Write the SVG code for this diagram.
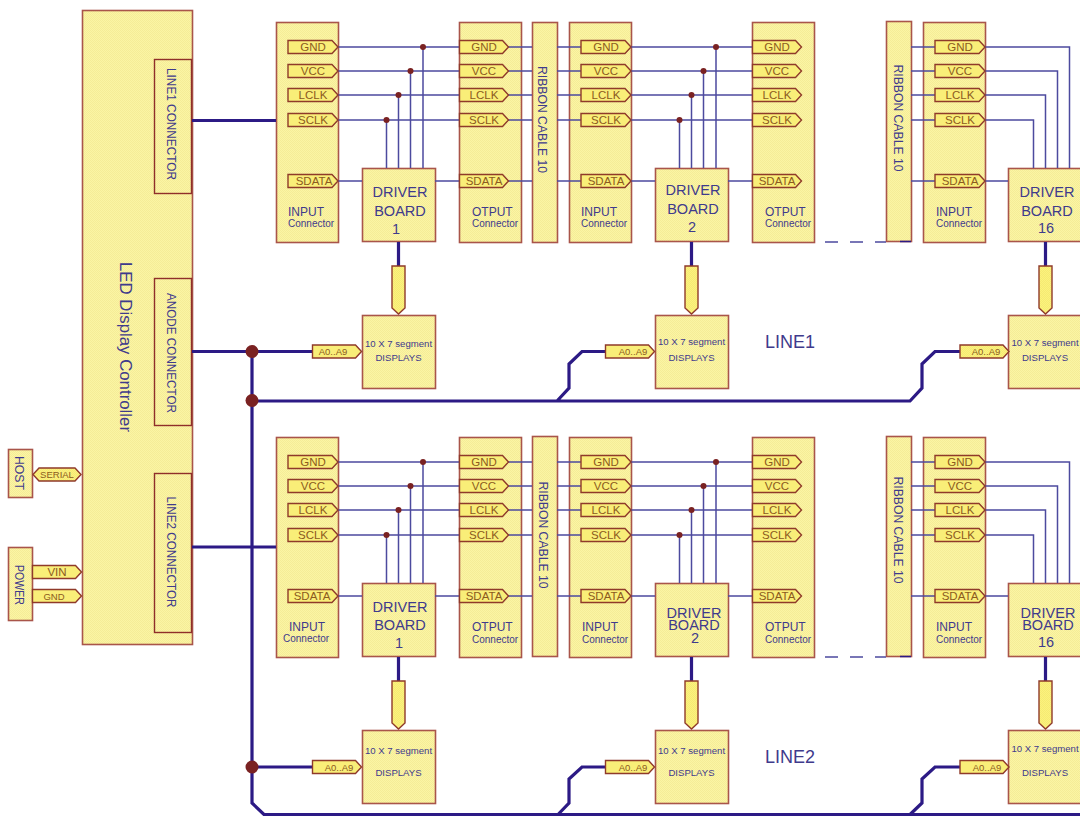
<svg xmlns="http://www.w3.org/2000/svg" width="1080" height="816" viewBox="0 0 1080 816">
<style>
text{font-family:"Liberation Sans",Arial,sans-serif;fill:#3f3a8c}
.b{fill:url(#dither);stroke:#a9554a;stroke-width:1.6}
.k{fill:url(#dither);stroke:#8f2f2a;stroke-width:1.4}
.t{fill:url(#dither2);stroke:#8f3a2a;stroke-width:1.4}
.w{fill:none;stroke:#4c4a9e;stroke-width:1.5}
.bus{fill:none;stroke:#2c1a85;stroke-width:3.2}
.d{fill:#7a2222}
.dash{fill:none;stroke:#4c4a9e;stroke-width:1.5;stroke-dasharray:13 12}
.tl{font-size:11.5px;fill:#8c5a20;text-anchor:middle}
.sm{font-size:9.5px;fill:#8c5a20;text-anchor:middle}
.i{font-size:12px}
.c{font-size:10px}
.m{font-size:14.5px;text-anchor:middle}
.s{font-size:9.6px;text-anchor:middle}
.v{font-size:12px;text-anchor:middle}
.L{font-size:18px}
</style>
<defs>
<pattern id="dither" width="2" height="2" patternUnits="userSpaceOnUse"><rect width="2" height="2" fill="#fbf5a4"/><rect width="1" height="1" fill="#f5ec97"/><rect x="1" y="1" width="1" height="1" fill="#f5ec97"/></pattern>
<pattern id="dither2" width="2" height="2" patternUnits="userSpaceOnUse"><rect width="2" height="2" fill="#fbf27e"/><rect width="1" height="1" fill="#f6ea72"/><rect x="1" y="1" width="1" height="1" fill="#f6ea72"/></pattern>
<path id="tag" d="M0 0H44L50 6.5L44 13H0Z"/>
<path id="tagS" d="M0 0H43L49 6.5L43 13H0Z"/>
<path id="pin" d="M0 0H13V42L6.5 48L0 42Z"/>
</defs>

<g id="led-controller"><rect class="b" x="82.500" y="10.500" width="110" height="634"/>
<text transform="translate(120,347) rotate(90)" text-anchor="middle" font-size="17" textLength="170" lengthAdjust="spacingAndGlyphs">LED Display Controller</text></g>
<g id="line1-connector"><rect class="k" x="154.500" y="59.500" width="37" height="134"/><text transform="translate(167,124) rotate(90)" text-anchor="middle" font-size="13" textLength="112" lengthAdjust="spacingAndGlyphs">LINE1 CONNECTOR</text></g>
<g id="anode-connector"><rect class="k" x="154.500" y="278.500" width="37" height="147"/><text transform="translate(167,353) rotate(90)" text-anchor="middle" font-size="13" textLength="120" lengthAdjust="spacingAndGlyphs">ANODE CONNECTOR</text></g>
<g id="line2-connector"><rect class="k" x="154.500" y="473.500" width="37" height="159"/><text transform="translate(167,552) rotate(90)" text-anchor="middle" font-size="13" textLength="111" lengthAdjust="spacingAndGlyphs">LINE2 CONNECTOR</text></g>
<g id="host"><rect class="b" x="8.500" y="449.500" width="24" height="48"/><text transform="translate(15,473) rotate(90)" text-anchor="middle" font-size="13" textLength="34" lengthAdjust="spacingAndGlyphs">HOST</text></g>
<g id="power"><rect class="b" x="8.500" y="547.500" width="24" height="73"/><text transform="translate(15,585) rotate(90)" text-anchor="middle" font-size="12" textLength="40" lengthAdjust="spacingAndGlyphs">POWER</text></g>

<g id="input-1a"><rect class="b" x="276.500" y="22.500" width="62" height="220"/><text class="i" x="288" y="216">INPUT</text><text class="c" x="288" y="227">Connector</text></g>
<g id="driver-1a"><rect class="b" x="362.500" y="168.500" width="73" height="73"/><text class="m" x="400" y="197">DRIVER</text><text class="m" x="400" y="215.500">BOARD</text><text class="m" x="396" y="234">1</text></g>
<g id="output-1a"><rect class="b" x="459.500" y="22.500" width="62" height="220"/><text class="i" x="472" y="216">OTPUT</text><text class="c" x="472" y="227">Connector</text></g>
<g id="ribbon-1a"><rect class="b" x="532.500" y="22.500" width="25" height="220"/><text class="v" transform="translate(538,119.500) rotate(90)" textLength="107" lengthAdjust="spacingAndGlyphs">RIBBON CABLE 10</text></g>
<g id="input-2a"><rect class="b" x="569.500" y="22.500" width="62" height="220"/><text class="i" x="581" y="216">INPUT</text><text class="c" x="581" y="227">Connector</text></g>
<g id="driver-2a"><rect class="b" x="655.500" y="168.500" width="73" height="73"/><text class="m" x="693" y="195">DRIVER</text><text class="m" x="693" y="213.500">BOARD</text><text class="m" x="692" y="232">2</text></g>
<g id="output-2a"><rect class="b" x="752.500" y="22.500" width="62" height="220"/><text class="i" x="765" y="216">OTPUT</text><text class="c" x="765" y="227">Connector</text></g>
<g id="ribbon-3a"><rect class="b" x="886.500" y="21.500" width="25" height="220"/><text class="v" transform="translate(894,118) rotate(90)" textLength="107" lengthAdjust="spacingAndGlyphs">RIBBON CABLE 10</text></g>
<g id="input-3a"><rect class="b" x="923.500" y="22.500" width="62" height="220"/><text class="i" x="936" y="216">INPUT</text><text class="c" x="936" y="227">Connector</text></g>
<g id="driver-16a"><rect class="b" x="1008.500" y="168.500" width="80" height="73"/><text class="m" x="1047" y="197">DRIVER</text><text class="m" x="1047" y="215.500">BOARD</text><text class="m" x="1046" y="233">16</text></g>
<g id="display-1a"><rect class="b" x="362.500" y="315.500" width="73" height="73"/><text class="s" x="398.500" y="347">10 X 7 segment</text><text class="s" x="398.500" y="361">DISPLAYS</text></g>
<g id="display-2a"><rect class="b" x="655.500" y="315.500" width="73" height="73"/><text class="s" x="691.500" y="345">10 X 7 segment</text><text class="s" x="691.500" y="361">DISPLAYS</text></g>
<g id="display-16a"><rect class="b" x="1008.500" y="315.500" width="80" height="73"/><text class="s" x="1045" y="346">10 X 7 segment</text><text class="s" x="1045" y="361">DISPLAYS</text></g>

<g id="input-1b"><rect class="b" x="276.500" y="437.500" width="62" height="220"/><text class="i" x="289" y="631">INPUT</text><text class="c" x="283" y="642">Connector</text></g>
<g id="driver-1b"><rect class="b" x="362.500" y="583.500" width="73" height="73"/><text class="m" x="400" y="612">DRIVER</text><text class="m" x="400" y="630">BOARD</text><text class="m" x="399" y="648">1</text></g>
<g id="output-1b"><rect class="b" x="459.500" y="437.500" width="62" height="220"/><text class="i" x="472" y="631">OTPUT</text><text class="c" x="472" y="643">Connector</text></g>
<g id="ribbon-1b"><rect class="b" x="532.500" y="436.500" width="25" height="220"/><text class="v" transform="translate(539,535) rotate(90)" textLength="107" lengthAdjust="spacingAndGlyphs">RIBBON CABLE 10</text></g>
<g id="input-2b"><rect class="b" x="569.500" y="437.500" width="62" height="220"/><text class="i" x="582" y="631">INPUT</text><text class="c" x="582" y="643">Connector</text></g>
<g id="driver-2b"><rect class="b" x="655.500" y="583.500" width="73" height="73"/><text class="m" x="694" y="618">DRIVER</text><text class="m" x="694" y="630">BOARD</text><text class="m" x="695" y="643">2</text></g>
<g id="output-2b"><rect class="b" x="752.500" y="437.500" width="62" height="220"/><text class="i" x="765" y="631">OTPUT</text><text class="c" x="765" y="643">Connector</text></g>
<g id="ribbon-3b"><rect class="b" x="886.500" y="436.500" width="25" height="220"/><text class="v" transform="translate(894,530) rotate(90)" textLength="107" lengthAdjust="spacingAndGlyphs">RIBBON CABLE 10</text></g>
<g id="input-3b"><rect class="b" x="923.500" y="437.500" width="62" height="220"/><text class="i" x="936" y="631">INPUT</text><text class="c" x="936" y="643">Connector</text></g>
<g id="driver-16b"><rect class="b" x="1008.500" y="583.500" width="80" height="73"/><text class="m" x="1048" y="618">DRIVER</text><text class="m" x="1048" y="630">BOARD</text><text class="m" x="1046" y="647">16</text></g>
<g id="display-1b"><rect class="b" x="362.500" y="730.500" width="73" height="73"/><text class="s" x="398.500" y="754">10 X 7 segment</text><text class="s" x="398.500" y="776">DISPLAYS</text></g>
<g id="display-2b"><rect class="b" x="655.500" y="730.500" width="73" height="73"/><text class="s" x="691.500" y="754">10 X 7 segment</text><text class="s" x="691.500" y="776">DISPLAYS</text></g>
<g id="display-16b"><rect class="b" x="1008.500" y="730.500" width="80" height="73"/><text class="s" x="1045" y="752">10 X 7 segment</text><text class="s" x="1045" y="776">DISPLAYS</text></g>

<g id="connectors">
<path class="w" d="M338 47H459M338 71H459M338 95H459M338 120H459M338 181H362M435 181H459M508 47H532M508 71H532M508 95H532M508 120H532M508 181H532M557 47H581M557 71H581M557 95H581M557 120H581M557 181H581M631 47H752M631 71H752M631 95H752M631 120H752M631 181H655M728 181H752M911 47H935M911 71H935M911 95H935M911 120H935M911 181H935M985 181H1008"/>
<path class="w" d="M423 47V168M410.500 71V168M398.500 95V168M386.500 120V168M716 47V168M703.500 71V168M691.500 95V168M679.500 120V168M985 47H1069.500V168M985 71H1057.500V168M985 95H1045.500V168M985 120H1033.500V168"/>
<path class="dash" d="M825 242H886"/>
<path class="w" d="M338 462H459M338 486H459M338 510H459M338 535H459M338 596H362M435 596H459M508 462H532M508 486H532M508 510H532M508 535H532M508 596H532M557 462H581M557 486H581M557 510H581M557 535H581M557 596H581M631 462H752M631 486H752M631 510H752M631 535H752M631 596H655M728 596H752M911 462H935M911 486H935M911 510H935M911 535H935M911 596H935M985 596H1008"/>
<path class="w" d="M423 462V583M410.500 486V583M398.500 510V583M386.500 535V583M716 462V583M703.500 486V583M691.500 510V583M679.500 535V583M985 462H1069.500V583M985 486H1057.500V583M985 510H1045.500V583M985 535H1033.500V583"/>
<path class="dash" d="M825 657H886"/>
<path class="bus" d="M192 120.500H276M192 351.500H312M192 547H276M252 351V803L264 814.500H1080M252 401H910L922 388V364L935 351.500H960M557 401L569 388V364L582 351.500H605M252 767H312M558 814.500L569 803V779L582 767H605M910 814.500L922 803V779L935 767H960"/>
<path class="bus" d="M398.500 242V266M691.500 242V266M1045.500 242V266M398.500 657V681M691.500 657V681M1045.500 657V681"/>
<path class="bus" stroke-width="1.500" d="M900 241.500H911M900 656.500H911" style="stroke-width:1.600"/>
<g class="d"><circle cx="423" cy="47" r="3"/><circle cx="410.500" cy="71" r="3"/><circle cx="398.500" cy="95" r="3"/><circle cx="386.500" cy="120" r="3"/><circle cx="716" cy="47" r="3"/><circle cx="703.500" cy="71" r="3"/><circle cx="691.500" cy="95" r="3"/><circle cx="679.500" cy="120" r="3"/><circle cx="423" cy="462" r="3"/><circle cx="410.500" cy="486" r="3"/><circle cx="398.500" cy="510" r="3"/><circle cx="386.500" cy="535" r="3"/><circle cx="716" cy="462" r="3"/><circle cx="703.500" cy="486" r="3"/><circle cx="691.500" cy="510" r="3"/><circle cx="679.500" cy="535" r="3"/><circle cx="252" cy="351.500" r="6.500"/><circle cx="252" cy="400.500" r="6.500"/><circle cx="252" cy="767" r="6.500"/></g>
</g>

<g id="tags">
<g class="t">
<use href="#tag" x="288" y="40.500"/><use href="#tag" x="288" y="64.500"/><use href="#tag" x="288" y="88.500"/><use href="#tag" x="288" y="113.500"/><use href="#tag" x="288" y="174.500"/>
<use href="#tagS" x="459.500" y="40.500"/><use href="#tagS" x="459.500" y="64.500"/><use href="#tagS" x="459.500" y="88.500"/><use href="#tagS" x="459.500" y="113.500"/><use href="#tagS" x="459.500" y="174.500"/>
<use href="#tag" x="581" y="40.500"/><use href="#tag" x="581" y="64.500"/><use href="#tag" x="581" y="88.500"/><use href="#tag" x="581" y="113.500"/><use href="#tag" x="581" y="174.500"/>
<use href="#tagS" x="752.500" y="40.500"/><use href="#tagS" x="752.500" y="64.500"/><use href="#tagS" x="752.500" y="88.500"/><use href="#tagS" x="752.500" y="113.500"/><use href="#tagS" x="752.500" y="174.500"/>
<use href="#tag" x="935" y="40.500"/><use href="#tag" x="935" y="64.500"/><use href="#tag" x="935" y="88.500"/><use href="#tag" x="935" y="113.500"/><use href="#tag" x="935" y="174.500"/>
<use href="#tag" x="288" y="455.500"/><use href="#tag" x="288" y="479.500"/><use href="#tag" x="288" y="503.500"/><use href="#tag" x="288" y="528.500"/><use href="#tag" x="288" y="589.500"/>
<use href="#tagS" x="459.500" y="455.500"/><use href="#tagS" x="459.500" y="479.500"/><use href="#tagS" x="459.500" y="503.500"/><use href="#tagS" x="459.500" y="528.500"/><use href="#tagS" x="459.500" y="589.500"/>
<use href="#tag" x="581" y="455.500"/><use href="#tag" x="581" y="479.500"/><use href="#tag" x="581" y="503.500"/><use href="#tag" x="581" y="528.500"/><use href="#tag" x="581" y="589.500"/>
<use href="#tagS" x="752.500" y="455.500"/><use href="#tagS" x="752.500" y="479.500"/><use href="#tagS" x="752.500" y="503.500"/><use href="#tagS" x="752.500" y="528.500"/><use href="#tagS" x="752.500" y="589.500"/>
<use href="#tag" x="935" y="455.500"/><use href="#tag" x="935" y="479.500"/><use href="#tag" x="935" y="503.500"/><use href="#tag" x="935" y="528.500"/><use href="#tag" x="935" y="589.500"/>
<use href="#tagS" x="312.500" y="345"/><use href="#tagS" x="605.500" y="345"/><use href="#tagS" x="960" y="345"/><use href="#tagS" x="312.500" y="760.500"/><use href="#tagS" x="605.500" y="760.500"/><use href="#tagS" x="960" y="760.500"/>
<use href="#tagS" x="32.500" y="565.500"/><use href="#tagS" x="32.500" y="589.500"/>
<path d="M39 468H75L81 474.500L75 481H39L33 474.500Z"/>
<use href="#pin" x="392" y="266"/><use href="#pin" x="685" y="266"/><use href="#pin" x="1039" y="266"/><use href="#pin" x="392" y="681"/><use href="#pin" x="685" y="681"/><use href="#pin" x="1039" y="681"/>
</g>
<text class="tl" x="313" y="51">GND</text><text class="tl" x="313" y="75">VCC</text><text class="tl" x="313" y="99">LCLK</text><text class="tl" x="313" y="124">SCLK</text><text class="tl" x="314" y="185">SDATA</text>
<text class="tl" x="484" y="51">GND</text><text class="tl" x="484" y="75">VCC</text><text class="tl" x="484" y="99">LCLK</text><text class="tl" x="484" y="124">SCLK</text><text class="tl" x="484" y="185">SDATA</text>
<text class="tl" x="606" y="51">GND</text><text class="tl" x="606" y="75">VCC</text><text class="tl" x="606" y="99">LCLK</text><text class="tl" x="606" y="124">SCLK</text><text class="tl" x="606" y="185">SDATA</text>
<text class="tl" x="777" y="51">GND</text><text class="tl" x="777" y="75">VCC</text><text class="tl" x="777" y="99">LCLK</text><text class="tl" x="777" y="124">SCLK</text><text class="tl" x="777" y="185">SDATA</text>
<text class="tl" x="960" y="51">GND</text><text class="tl" x="960" y="75">VCC</text><text class="tl" x="960" y="99">LCLK</text><text class="tl" x="960" y="124">SCLK</text><text class="tl" x="960" y="185">SDATA</text>
<text class="tl" x="313" y="466">GND</text><text class="tl" x="313" y="490">VCC</text><text class="tl" x="313" y="514">LCLK</text><text class="tl" x="313" y="539">SCLK</text><text class="tl" x="312" y="600">SDATA</text>
<text class="tl" x="484" y="466">GND</text><text class="tl" x="484" y="490">VCC</text><text class="tl" x="484" y="514">LCLK</text><text class="tl" x="484" y="539">SCLK</text><text class="tl" x="484" y="600">SDATA</text>
<text class="tl" x="606" y="466">GND</text><text class="tl" x="606" y="490">VCC</text><text class="tl" x="606" y="514">LCLK</text><text class="tl" x="606" y="539">SCLK</text><text class="tl" x="606" y="600">SDATA</text>
<text class="tl" x="777" y="466">GND</text><text class="tl" x="777" y="490">VCC</text><text class="tl" x="777" y="514">LCLK</text><text class="tl" x="777" y="539">SCLK</text><text class="tl" x="777" y="600">SDATA</text>
<text class="tl" x="960" y="466">GND</text><text class="tl" x="960" y="490">VCC</text><text class="tl" x="960" y="514">LCLK</text><text class="tl" x="960" y="539">SCLK</text><text class="tl" x="960" y="600">SDATA</text>
<text class="sm" x="333" y="355">A0..A9</text><text class="sm" x="633" y="355">A0..A9</text><text class="sm" x="986" y="355">A0..A9</text>
<text class="sm" x="339" y="771">A0..A9</text><text class="sm" x="633" y="771">A0..A9</text><text class="sm" x="987" y="771">A0..A9</text>
<text class="sm" x="57" y="478">SERIAL</text>
<text class="tl" x="57" y="576">VIN</text>
<text class="sm" x="54" y="600">GND</text>
</g>
<text class="L" x="765" y="348">LINE1</text>
<text class="L" x="765" y="763">LINE2</text>
</svg>
